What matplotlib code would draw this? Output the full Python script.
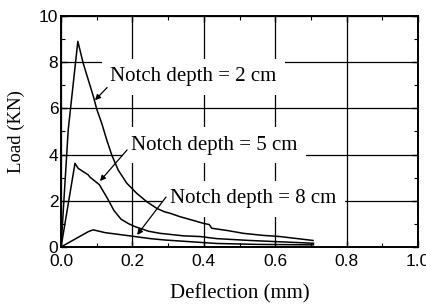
import numpy as np
import matplotlib
matplotlib.use("Agg")
import matplotlib.pyplot as plt
from matplotlib.ticker import MultipleLocator

# load-deflection curves
x_2cm = [0, 0.02, 0.047, 0.062, 0.0906, 0.1, 0.114, 0.128, 0.142, 0.16, 0.184, 0.212,
         0.24, 0.268, 0.29, 0.305, 0.333, 0.37, 0.399, 0.415, 0.422, 0.47, 0.51,
         0.566, 0.613, 0.706]
y_2cm = [0, 5.06, 8.9, 7.95, 6.51, 5.96, 5.35, 4.63, 3.98, 3.33, 2.76, 2.32,
         1.96, 1.67, 1.52, 1.46, 1.31, 1.15, 1.02, 0.97, 0.81, 0.70, 0.59,
         0.50, 0.45, 0.28]

x_5cm = [0, 0.039, 0.048, 0.076, 0.081, 0.107, 0.13, 0.148, 0.168, 0.19, 0.207,
         0.245, 0.277, 0.343, 0.39, 0.436, 0.529, 0.707]
y_5cm = [0, 3.62, 3.4, 3.12, 3.02, 2.7, 2.1, 1.58, 1.2, 1.0, 0.88,
         0.68, 0.59, 0.48, 0.45, 0.36, 0.28, 0.16]

x_8cm = [0, 0.076, 0.09, 0.123, 0.207, 0.25, 0.291, 0.436, 0.55, 0.707]
y_8cm = [0, 0.66, 0.74, 0.62, 0.45, 0.36, 0.30, 0.15, 0.11, 0.09]

labels = ["Notch depth = 2 cm", "Notch depth = 5 cm", "Notch depth = 8 cm"]
label_pos = [(0.137, 7.36), (0.196, 4.4), (0.305, 2.08)]
arrow_tail = [(0.129, 6.9), (0.185, 4.2), (0.294, 2.16)]
arrow_head = [(0.095, 6.35), (0.109, 2.85), (0.213, 0.52)]

serif = "Liberation Serif"
sans = "Liberation Sans"

fig = plt.figure(figsize=(4.27, 3.06), dpi=100)
ax = fig.add_axes([0.143, 0.193, 0.836, 0.755])

for xs, ys in [(x_2cm, y_2cm), (x_5cm, y_5cm), (x_8cm, y_8cm)]:
    ax.plot(xs, ys, color="black", lw=1.1, zorder=4)

ax.set_xlim(0, 1.0)
ax.set_ylim(0, 10)
ax.xaxis.set_major_locator(MultipleLocator(0.2))
ax.xaxis.set_minor_locator(MultipleLocator(0.1))
ax.yaxis.set_major_locator(MultipleLocator(2))
ax.yaxis.set_minor_locator(MultipleLocator(1))
ax.xaxis.set_major_formatter(matplotlib.ticker.FormatStrFormatter("%.1f"))
ax.grid(True, which="major", color="black", lw=0.9, zorder=1)
ax.set_axisbelow(True)
ax.tick_params(which="both", direction="in", top=True, right=True)
ax.tick_params(which="major", length=4, width=1, pad=2, labelsize=12.5)
ax.tick_params(axis="x", which="major", pad=5)
ax.tick_params(which="minor", length=3, width=0.8)
for lab in ax.get_xticklabels() + ax.get_yticklabels():
    lab.set_fontfamily(sans)
for sp in ax.spines.values():
    sp.set_linewidth(1.4)

for txt, pos in zip(labels, label_pos):
    ax.text(pos[0], pos[1], txt, family=serif, fontsize=15, ha="left", va="center",
            zorder=3, bbox=dict(facecolor="white", edgecolor="none", pad=6))
for tail, head in zip(arrow_tail, arrow_head):
    ax.annotate("", xy=head, xytext=tail, zorder=5,
                arrowprops=dict(arrowstyle="-|>", color="black", lw=0.9,
                                mutation_scale=8, shrinkA=0, shrinkB=0))

ax.set_xlabel("Deflection (mm)", family=serif, fontsize=15, labelpad=11)
ax.set_ylabel("Load (KN)", family=serif, fontsize=13.5, labelpad=10)

fig.savefig("out.png", dpi=100)
